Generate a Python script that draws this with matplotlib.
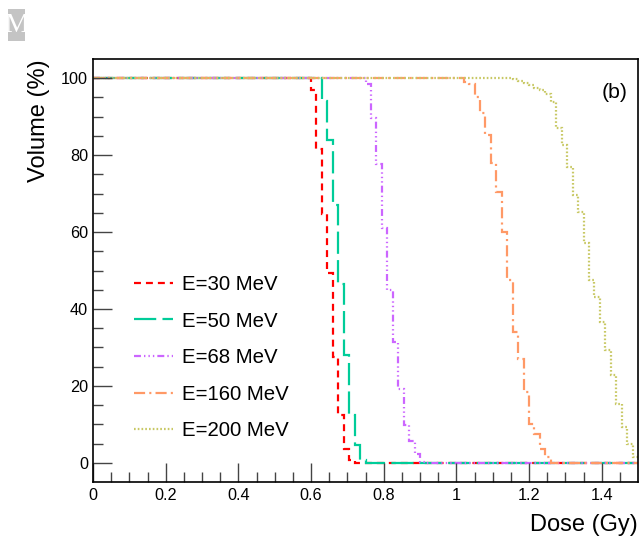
import numpy as np
import matplotlib
matplotlib.use('Agg')
import matplotlib.pyplot as plt
from matplotlib.patches import Rectangle

plt.rcParams['font.family'] = ['Liberation Sans', 'DejaVu Sans']
plt.rcParams['lines.scale_dashes'] = False

# 100 dose bins between 0 and 1.5 Gy
dose_edges = np.linspace(0.0, 1.5, 101)

# falling part of each cumulative DVH (bins before are 100 %, bins after are 0 %)
first_bin_30 = 40
vol_30 = [97.0, 81.7, 64.8, 49.3, 27.4, 12.4, 3.7, 0.7]
first_bin_50 = 42
vol_50 = [94.0, 84.0, 67.0, 46.4, 28.0, 12.4, 4.6, 0.7]
first_bin_68 = 50
vol_68 = [98.5, 89.6, 77.6, 61.1, 45.0, 31.5, 19.3, 9.8, 5.6, 2.4, 0.3]
first_bin_160 = 68
vol_160 = [98.9, 98.5, 95.0, 90.9, 85.2, 78.0, 70.5, 60.1, 47.5, 34.1, 27.1,
           18.5, 10.2, 7.6, 3.7, 1.6]
first_bin_200 = 77
vol_200 = [99.7, 99.3, 98.8, 98.2, 97.5, 96.9, 96.0, 93.9, 87.0, 82.6, 77.0,
           69.6, 65.3, 57.1, 47.5, 43.2, 36.7, 29.3, 22.8, 15.4, 9.4, 5.0, 1.6]

labels = ['E=30 MeV', 'E=50 MeV', 'E=68 MeV', 'E=160 MeV', 'E=200 MeV']
colors = ['#ff0000', '#00cc99', '#cc66ff', '#ff9966', '#c8c864']
styles = [(0, (5.0, 3.6)),
          (0, (16.0, 4.5)),
          (0, (5.0, 2.2, 1.0, 2.2, 1.0, 2.2, 1.0, 2.2)),
          (0, (8.0, 3.0, 1.5, 3.0)),
          (0, (1.2, 1.5))]


def full_hist(first_bin, falling):
    vals = [100.0] * first_bin + list(falling)
    vals += [0.0] * (100 - len(vals))
    return np.array(vals)


series = [full_hist(first_bin_30, vol_30), full_hist(first_bin_50, vol_50),
          full_hist(first_bin_68, vol_68), full_hist(first_bin_160, vol_160),
          full_hist(first_bin_200, vol_200)]

fig = plt.figure(figsize=(6.39, 5.37), dpi=100)
ax = fig.add_axes([93 / 639, 55 / 537, 545 / 639, 423 / 537])

handles = []
for vals, lab, col, ls in zip(series, labels, colors, styles):
    ax.stairs(vals, dose_edges, color=col, linestyle=ls, linewidth=1.6, baseline=None)
    h, = ax.plot([], [], color=col, linestyle=ls, linewidth=1.6, label=lab)
    handles.append(h)

ax.set_xlim(0, 1.5)
ax.set_ylim(-5, 105)
ax.set_xticks(np.arange(0, 1.41, 0.2))
ax.set_xticklabels(['0', '0.2', '0.4', '0.6', '0.8', '1', '1.2', '1.4'])
ax.set_xticks(np.arange(0, 1.5, 0.05), minor=True)
ax.set_yticks(np.arange(0, 101, 20))
ax.set_yticks(np.arange(0, 101, 5), minor=True)
ax.tick_params(which='both', direction='in', top=False, right=False, width=1, color='#444444')
ax.tick_params(which='major', length=14, labelsize=11.7)
ax.tick_params(which='minor', length=7)
ax.tick_params(axis='x', which='major', pad=4.5)
ax.tick_params(axis='y', which='major', pad=3.6)
for sp in ax.spines.values():
    sp.set_linewidth(1.2)

ax.set_xlabel('Dose (Gy)', fontsize=17, loc='right', labelpad=8)
ax.set_ylabel('Volume (%)', fontsize=17, loc='top', labelpad=8)

ax.text(615, 444, '(b)', transform=None, fontsize=15.3, ha='center', va='center')

leg = ax.legend(handles=handles, loc='upper left', frameon=False, fontsize=14.7,
                handlelength=1.9, handletextpad=0.45, labelspacing=0.86,
                borderpad=0, borderaxespad=0,
                bbox_to_anchor=(134 / 639, (537 - 275) / 537),
                bbox_transform=fig.transFigure)

# grey corner mark
fig.add_artist(Rectangle((8 / 639, (537 - 41) / 537), 17 / 639, 32 / 537,
                         transform=fig.transFigure, facecolor='#c4c4c4', edgecolor='none'))
fig.text(16.5 / 639, (537 - 25) / 537, 'M', color='white', fontsize=20,
         family='Liberation Serif', ha='center', va='center')

fig.savefig('out.png', dpi=100)
